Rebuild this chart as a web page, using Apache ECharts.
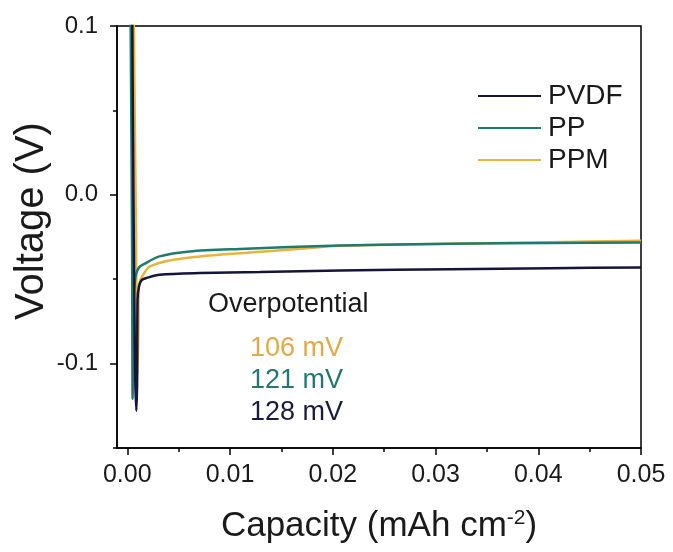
<!DOCTYPE html>
<html>
<head>
<meta charset="utf-8">
<script src="https://cdn.jsdelivr.net/npm/echarts@6/dist/echarts.min.js"></script>
<style>
  html, body { margin: 0; padding: 0; background: #fff; }
  #chart { width: 673px; height: 552px; }
</style>
</head>
<body>
<div id="chart"></div>
<script>
// Galvanostatic plating curves: voltage vs. areal capacity
const seriesNames = ['PVDF', 'PP', 'PPM'];
const seriesColors = ['#15143a', '#1f7a70', '#e8b43c'];

const pvdfCapacity = [0.00047, 0.00060, 0.00076, 0.00088, 0.00096, 0.00100, 0.00115, 0.00140, 0.00188, 0.00315, 0.00705, 0.0129, 0.0207, 0.0314, 0.0412, 0.0500];
const pvdfVoltage  = [0.120,   0.000,  -0.104,  -0.128,  -0.110,  -0.062,  -0.054,  -0.0505, -0.0493, -0.0474, -0.0464, -0.0458, -0.0448, -0.0441, -0.0435, -0.0430];

const ppCapacity = [0.00028, 0.00033, 0.00047, 0.00052, 0.00061, 0.00076, 0.00091, 0.00115, 0.00152, 0.00315, 0.00607, 0.01094, 0.0207, 0.0314, 0.0412, 0.0500];
const ppVoltage  = [0.120,   0.100,  -0.033,  -0.121,  -0.062,  -0.050,  -0.046,  -0.043,  -0.0414, -0.0365, -0.0336, -0.0321, -0.0300, -0.0290, -0.0286, -0.0282];

const ppmCapacity = [0.00060, 0.00064, 0.00086, 0.00098, 0.00108, 0.00110, 0.00130, 0.00169, 0.00217, 0.00412, 0.00705, 0.0119, 0.0168, 0.0207, 0.0314, 0.0412, 0.0500];
const ppmVoltage  = [0.120,   0.100,  -0.032,  -0.106,  -0.080,  -0.056,  -0.050,  -0.046,  -0.0425, -0.0389, -0.0365, -0.0342, -0.0320, -0.0302, -0.0290, -0.0281, -0.0272];

const xMajorTicks = [0, 0.01, 0.02, 0.03, 0.04, 0.05];
const xMinorTicks = [0.005, 0.015, 0.025, 0.035, 0.045];
const yMajorTicks = [-0.1, 0, 0.1];
const yMinorTicks = [-0.15, -0.05, 0.05];

const FONT = "'Liberation Sans', Arial, sans-serif";

const zip = (xs, ys) => xs.map((x, i) => [x, ys[i]]);
const curves = [zip(pvdfCapacity, pvdfVoltage), zip(ppCapacity, ppVoltage), zip(ppmCapacity, ppmVoltage)];

// Overpotential = depth of the nucleation dip
const overpotentials = [pvdfVoltage, ppVoltage, ppmVoltage].map(v => Math.round(-Math.min(...v) * 1000));

const chart = echarts.init(document.getElementById('chart'));

const tickStyle = { color: '#000', width: 1.5 };
const baseX = { type: 'value', position: 'bottom', min: -0.001, max: 0.05, splitLine: { show: false } };
const baseY = { type: 'value', position: 'left', min: -0.15, max: 0.1, splitLine: { show: false } };

chart.setOption({
  animation: false,
  backgroundColor: '#fff',
  textStyle: { fontFamily: FONT },
  grid: {
    left: 117, right: 32, top: 26, bottom: 104,
    show: true, borderColor: '#000', borderWidth: 1.5, backgroundColor: 'transparent'
  },
  legend: {
    data: seriesNames,
    orient: 'vertical',
    left: 478, top: 82, padding: 0,
    itemWidth: 63, itemHeight: 2, itemGap: 4,
    icon: 'rect',
    textStyle: { fontSize: 28, color: '#1a1a1a', fontFamily: FONT, padding: [0, 0, 0, 2] }
  },
  xAxis: [
    Object.assign({}, baseX, {
      name: 'Capacity (mAh cm{sup|-2})',
      nameLocation: 'middle',
      nameGap: 60,
      nameMoveOverlap: false,
      nameTextStyle: {
        fontSize: 35, color: '#1a1a1a', fontFamily: FONT,
        rich: { sup: { fontSize: 21, color: '#1a1a1a', fontFamily: FONT, verticalAlign: 'top', padding: [0, 0, 16, 0] } }
      },
      axisLine: { onZero: false, lineStyle: tickStyle },
      axisTick: { customValues: xMajorTicks, length: 7, lineStyle: tickStyle },
      axisLabel: { customValues: xMajorTicks, formatter: v => v.toFixed(2), fontSize: 25, color: '#1a1a1a', margin: 15 }
    }),
    Object.assign({}, baseX, {
      axisLine: { show: false, onZero: false },
      axisTick: { customValues: xMinorTicks, length: 4, lineStyle: tickStyle },
      axisLabel: { show: false }
    })
  ],
  yAxis: [
    Object.assign({}, baseY, {
      name: 'Voltage (V)',
      nameLocation: 'middle',
      nameGap: 65,
      nameMoveOverlap: false,
      nameTextStyle: { fontSize: 40, color: '#1a1a1a', fontFamily: FONT, padding: [0, 0, 0, 32] },
      axisLine: { onZero: false, lineStyle: tickStyle },
      axisTick: { customValues: yMajorTicks, length: 7, lineStyle: tickStyle },
      axisLabel: { customValues: yMajorTicks, formatter: v => v.toFixed(1), fontSize: 24, color: '#1a1a1a', margin: 19 }
    }),
    Object.assign({}, baseY, {
      axisLine: { show: false, onZero: false },
      axisTick: { customValues: yMinorTicks, length: 4, lineStyle: tickStyle },
      axisLabel: { show: false }
    })
  ],
  series: seriesNames.map((name, i) => ({
    name,
    type: 'line',
    data: curves[i],
    xAxisIndex: 0,
    yAxisIndex: 0,
    showSymbol: false,
    smooth: 0.3,
    clip: true,
    color: seriesColors[i],
    lineStyle: { color: seriesColors[i], width: 2.5 },
    z: 3 - i
  })),
  graphic: [
    { type: 'text', left: 208, top: 291, style: { text: 'Overpotential', fontSize: 27, fill: '#1a1a1a', fontFamily: FONT } },
    { type: 'text', left: 250, top: 335, style: { text: overpotentials[2] + ' mV', fontSize: 27, fill: '#e0aa48', fontFamily: FONT } },
    { type: 'text', left: 250, top: 367, style: { text: overpotentials[1] + ' mV', fontSize: 27, fill: '#26776f', fontFamily: FONT } },
    { type: 'text', left: 250, top: 399, style: { text: overpotentials[0] + ' mV', fontSize: 27, fill: '#1c1b3c', fontFamily: FONT } }
  ]
});
</script>
</body>
</html>
